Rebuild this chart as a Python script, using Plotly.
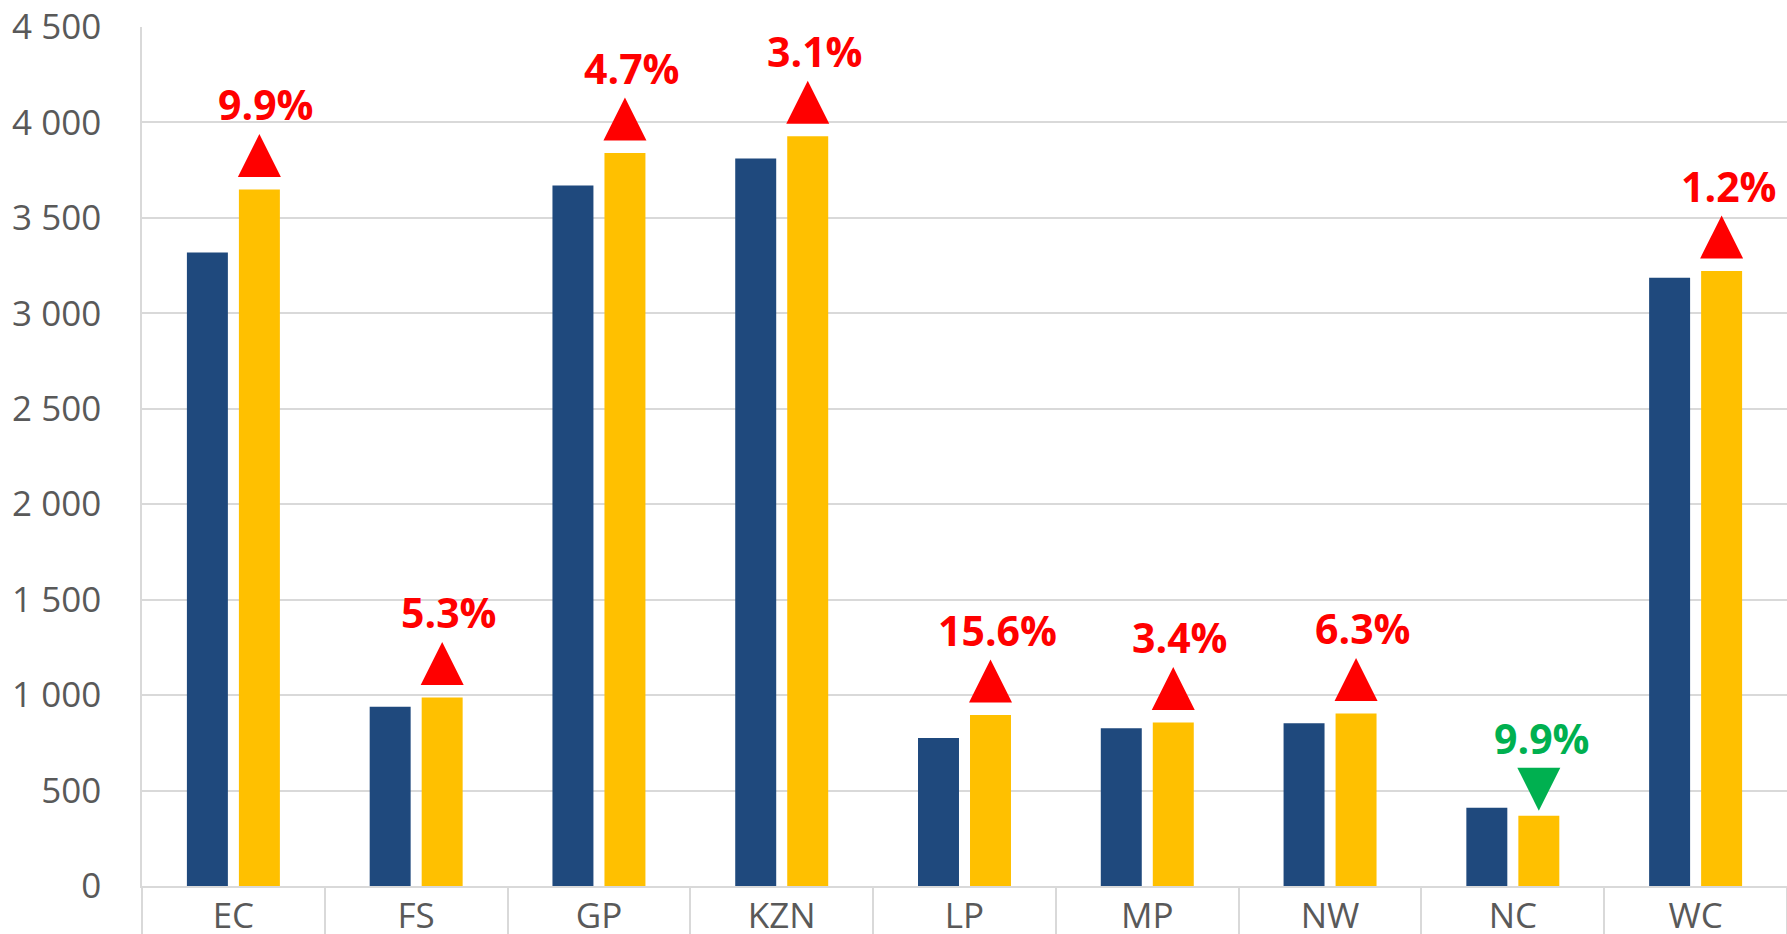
import plotly.graph_objects as go

# ---------------- data ----------------
categories = ["EC", "FS", "GP", "KZN", "LP", "MP", "NW", "NC", "WC"]
prev_values = [3319, 939, 3670, 3811, 775, 827, 852, 410, 3186]
curr_values = [3649, 988, 3840, 3928, 896, 857, 904, 368, 3222]
change_labels = ["9.9%", "5.3%", "4.7%", "3.1%", "15.6%", "3.4%", "6.3%", "9.9%", "1.2%"]
y_tick_values = [0, 500, 1000, 1500, 2000, 2500, 3000, 3500, 4000, 4500]

# ---------------- style ----------------
W, H = 1787, 934
M_L, M_R, M_T, M_B = 142, 0, 27, 48
Y_MAX = 4500
BLUE = "#1F497D"
YELLOW = "#FFC000"
UP_COLOR = "#FF0000"
DOWN_COLOR = "#00B050"
GRID = "#D9D9D9"
TICK_FONT = dict(family="Open Sans", size=35, color="#595959")
BARGAP = 0.431
GROUPGAP = 0.212

plot_h = H - M_T - M_B
units_per_px = Y_MAX / plot_h
bar_offset = (1 - BARGAP) / 4  # centre of second bar relative to category centre

fig = go.Figure()
fig.add_bar(x=categories, y=prev_values, marker=dict(color=BLUE, line_width=0), name="prev")
fig.add_bar(x=categories, y=curr_values, marker=dict(color=YELLOW, line_width=0), name="curr")

mx, my, msym, mcol = [], [], [], []
annotations = []
for i, (p, c, lab) in enumerate(zip(prev_values, curr_values, change_labels)):
    up = c >= p
    x = i + bar_offset
    col = UP_COLOR if up else DOWN_COLOR
    mx.append(x)
    mcol.append(col)
    if up:
        my.append(c + 55.5 * units_per_px)
        msym.append("arrow-up")
    else:
        my.append(c + 5 * units_per_px)
        msym.append("arrow-down")
    annotations.append(dict(
        x=x, y=c, xref="x2", yref="y",
        text="<b>" + lab + "</b>", showarrow=False,
        xanchor="center", yanchor="middle",
        xshift=7 if up else 3, yshift=85 if up else 78,
        font=dict(family="Open Sans", size=41, color=col),
    ))

fig.add_scatter(
    x=mx, y=my, xaxis="x2", yaxis="y", mode="markers",
    marker=dict(symbol=msym, size=43, color=mcol, line_width=0),
    hoverinfo="skip",
)

fig.update_layout(
    width=W, height=H,
    margin=dict(l=M_L, r=M_R, t=M_T, b=M_B, pad=0, autoexpand=False),
    paper_bgcolor="white", plot_bgcolor="white",
    showlegend=False,
    barmode="group", bargap=BARGAP, bargroupgap=GROUPGAP,
    separators=". ",
    annotations=annotations,
    xaxis=dict(
        type="category", range=[-0.5, len(categories) - 0.5], automargin=False,
        tickson="boundaries", ticks="outside", ticklen=48, tickwidth=1.5, tickcolor=GRID,
        showline=True, linecolor=GRID, linewidth=1.5, showgrid=False,
        tickfont=TICK_FONT, ticklabelstandoff=-2,
    ),
    xaxis2=dict(
        overlaying="x", range=[-0.5, len(categories) - 0.5], visible=False,
    ),
    yaxis=dict(
        range=[0, Y_MAX], tickvals=y_tick_values, tickformat=",d", automargin=False,
        showgrid=True, gridcolor=GRID, gridwidth=1.5,
        showline=True, linecolor=GRID, linewidth=1.5,
        zeroline=False, ticks="", tickfont=TICK_FONT, ticklabelstandoff=32,
    ),
)

fig.write_html(
    "out.html",
    config={"displayModeBar": False},
    post_script="document.body.style.margin='0';document.body.style.overflow='hidden';",
)
